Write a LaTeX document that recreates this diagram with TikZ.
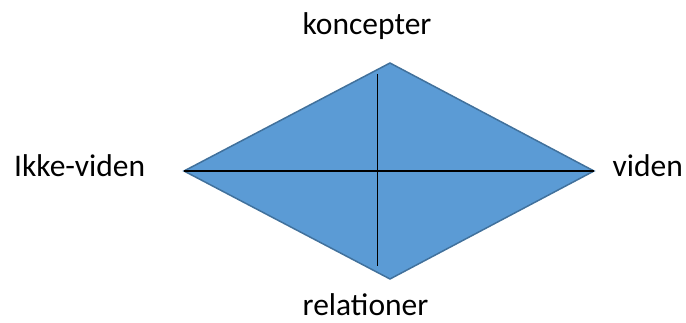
\documentclass[tikz,border=0pt]{standalone}
\usepackage{fontspec}
\setmainfont{Carlito}
\definecolor{dfill}{HTML}{5B9BD5}
\definecolor{dline}{HTML}{41719C}
\begin{document}
\begin{tikzpicture}[x=1pt,y=-1pt,
  lbl/.style={anchor=base west,inner sep=0pt,font=\fontsize{31.5}{37}\selectfont},
  rhomb/.style={fill=dfill,draw=dline,line width=1.5pt,line join=miter},
  cross/.style={draw=black,line width=1.3pt}]
\useasboundingbox (0,0) rectangle (686,323);
\coordinate (T) at (390,63);
\coordinate (L) at (184,171);
\coordinate (R) at (594,171);
\coordinate (B) at (390,279);
\coordinate (vt) at (377.7,74);
\coordinate (vb) at (377.7,266);
\path[rhomb] (T) -- (R) -- (B) -- (L) -- cycle;
\draw[cross] (L) -- (R);
\draw[cross] (vt) -- (vb);
\node[lbl] (k) at (302.5,35) {koncepter};
\node[lbl] (r) at (302.5,316) {relationer};
\node[lbl] (i) at (14,176.5) {Ikke-viden};
\node[lbl] (v) at (612.5,177) {viden};
\end{tikzpicture}
\end{document}
